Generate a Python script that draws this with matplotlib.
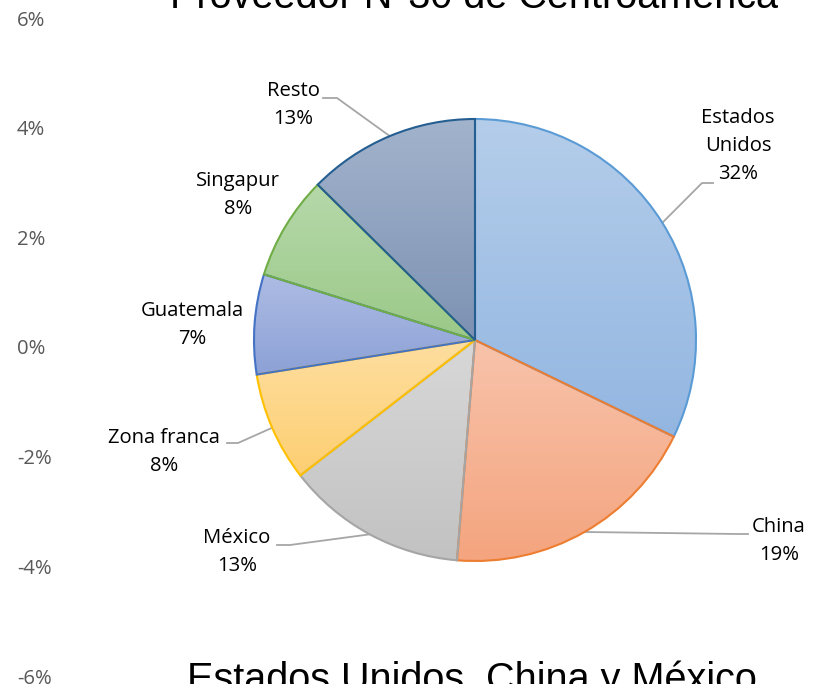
import numpy as np
import matplotlib.pyplot as plt
from matplotlib.colors import to_rgb
from matplotlib.ticker import PercentFormatter

plt.rcParams['axes.unicode_minus'] = False

# data
paises = ['Estados\nUnidos', 'China', 'México', 'Zona franca', 'Guatemala', 'Singapur', 'Resto']
shares = [32.2, 19.1, 13.2, 8.0, 7.3, 7.6, 12.6]
yticks = [-0.06, -0.04, -0.02, 0.0, 0.02, 0.04, 0.06]
titulo = 'Proveedor N°30 de Centroamérica'
subtitulo = 'Estados Unidos, China y México'

# styles (gradient top -> bottom, outline)
top_colors = ['#B4CDEA', '#F8C3AB', '#D8D8D8', '#FEDEA0', '#AEBCE4', '#B6D8AA', '#A2B3CC']
bottom_colors = ['#93B6E1', '#F4A47E', '#C2C2C2', '#FDCF72', '#8CA1D6', '#9BC988', '#7D92B3']
edge_colors = ['#5B9BD5', '#ED7D31', '#A5A5A5', '#FFC000', '#4472C4', '#70AD47', '#255E91']

# label layout in pixels from top-left: text centre, leader elbow, leader end
label_xy = [(738, 146), (779, 541), (237, 552), (164, 452), (192, 325), (238, 195), (293, 105)]
elbows = [(702, 183), (737, 534), (290, 545), (238, 443), None, None, (337, 98)]
ends = [(713, 183), (748, 534), (277, 545), (227, 443), None, None, (323, 98)]

W, H = 826, 684
fig = plt.figure(figsize=(W / 100, H / 100), dpi=100)
font = ['Open Sans', 'DejaVu Sans']

# value axis on the left (only tick labels shown)
ax = fig.add_axes([66 / W, (H - 676) / H, 0.9, (676 - 18) / H])
ax.set_facecolor('none')
ax.set_ylim(-0.06, 0.06)
ax.set_yticks(yticks)
ax.yaxis.set_major_formatter(PercentFormatter(1.0, decimals=0))
ax.set_xticks([])
for s in ax.spines.values():
    s.set_visible(False)
ax.tick_params(axis='y', length=0, pad=(66 - 17) * 0.72, labelcolor='#595959', labelsize=14.6)
for lbl in ax.get_yticklabels():
    lbl.set_ha('left')
    lbl.set_family(font)

# pie in pixel coordinates
pax = fig.add_axes([0, 0, 1, 1])
pax.set_facecolor('none')
cx, cy, r = 475, H - 340, 221
wedges, _ = pax.pie(shares, startangle=90, counterclock=False, center=(cx, cy), radius=r,
                    wedgeprops=dict(linewidth=1.5), frame=False)

for i, w in enumerate(wedges):
    w.set_facecolor('none')
    w.set_edgecolor(edge_colors[i])
    w.set_zorder(3 + i)
    v = w.get_path().vertices
    x0, x1 = v[:, 0].min(), v[:, 0].max()
    y0, y1 = v[:, 1].min(), v[:, 1].max()
    t = np.linspace(0, 1, 128)[:, None]
    c0, c1 = np.array(to_rgb(top_colors[i])), np.array(to_rgb(bottom_colors[i]))
    grad = (c0 * (1 - t) + c1 * t)[:, None, :]
    im = pax.imshow(grad, extent=(x0, x1, y0, y1), origin='upper', aspect='auto',
                    interpolation='bilinear', zorder=2)
    im.set_clip_path(w)

    # leader lines
    if elbows[i] is not None:
        ang = np.radians((w.theta1 + w.theta2) / 2)
        sx, sy = cx + r * np.cos(ang), cy + r * np.sin(ang)
        ex, ey = elbows[i]
        fx, fy = ends[i]
        pax.plot([sx, ex, fx], [sy, H - ey, H - fy], color='#A6A6A6', lw=1.3, zorder=1)

    lx, ly = label_xy[i]
    pax.text(lx, H - ly, f'{paises[i]}\n{shares[i]:.0f}%', ha='center', va='center',
             fontsize=14.6, family=font, color='black', linespacing=1.55, zorder=20)

pax.set_xlim(0, W)
pax.set_ylim(0, H)
pax.set_axis_off()

# clipped headings from the original slide
fig.text(474 / W, 1 - 8 / H, titulo, ha='center', va='baseline', fontsize=28.5,
         family=['Liberation Sans', 'DejaVu Sans'], color='black')
fig.text(472 / W, -7 / H, subtitulo, ha='center', va='baseline', fontsize=28.5,
         family=['Liberation Sans', 'DejaVu Sans'], color='black')

fig.savefig('out.png', dpi=100)
